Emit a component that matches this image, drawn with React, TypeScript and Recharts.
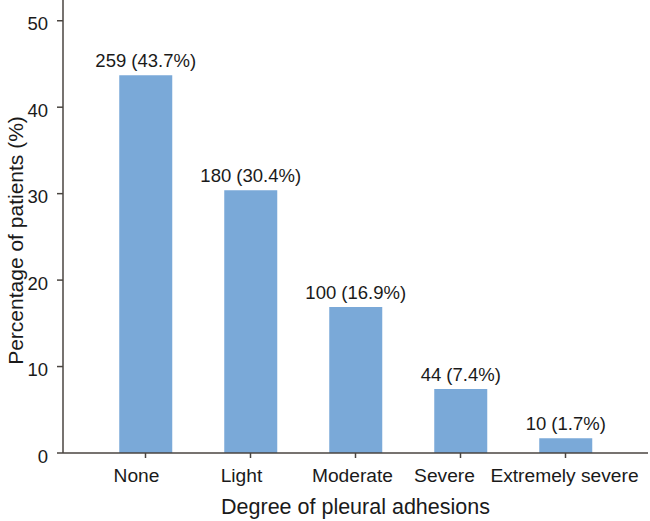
import { BarChart, Bar, XAxis, YAxis, LabelList } from "recharts";

const categories = ["None", "Light", "Moderate", "Severe", "Extremely severe"];
const patientCounts = [259, 180, 100, 44, 10];
const percentages = [43.7, 30.4, 16.9, 7.4, 1.7];
const yTicks = [0, 10, 20, 30, 40, 50];
// the original has its category labels nudged a little left of the ticks
const tickNudge = [-9, -9, -3, -16, -1];

const data = categories.map((name, i) => ({
  name,
  count: patientCounts[i],
  pct: percentages[i],
  label: `${patientCounts[i]} (${percentages[i]}%)`,
}));

const FONT = "'Liberation Sans', Arial, Helvetica, sans-serif";
const AXIS_COLOR = "#4a4540";
const TEXT_COLOR = "#1a1a1a";

// bar value label, one line, sitting just above the bar
const BarTopLabel = (props: any) => {
  const { x, y, width, value } = props;
  return (
    <text
      x={x + width / 2}
      y={y - 8}
      textAnchor="middle"
      fill={TEXT_COLOR}
      fontSize={18.5}
      fontFamily={FONT}
    >
      {value}
    </text>
  );
};

const CategoryTick = (props: any) => {
  const { x, y, payload, index } = props;
  return (
    <text
      x={x + (tickNudge[index] || 0)}
      y={y + 20}
      textAnchor="middle"
      fill={TEXT_COLOR}
      fontSize={19.2}
      fontFamily={FONT}
    >
      {payload.value}
    </text>
  );
};

const YTitle = (props: any) => {
  const { viewBox } = props;
  const cx = viewBox.x + 15;
  const cy = viewBox.y + viewBox.height / 2 + 14;
  return (
    <text
      x={cx}
      y={cy}
      transform={`rotate(-90, ${cx}, ${cy})`}
      textAnchor="middle"
      dominantBaseline="central"
      fill={TEXT_COLOR}
      fontSize={21}
      fontFamily={FONT}
    >
      Percentage of patients (%)
    </text>
  );
};

export default function App() {
  return (
    <div style={{ width: 650, height: 521, fontFamily: FONT }}>
      <style>{`body{margin:0}`}</style>
      <BarChart
        width={650}
        height={521}
        data={data}
        margin={{ top: 0, right: 2, left: 0, bottom: 0 }}
        barCategoryGap="25%"
      >
        <XAxis
          dataKey="name"
          height={68}
          padding={{ left: 30, right: 30 }}
          stroke={AXIS_COLOR}
          strokeWidth={1.5}
          tickSize={5}
          tickMargin={4}
          tick={<CategoryTick />}
          tickLine={{ stroke: AXIS_COLOR }}
          interval={0}
          label={{
            value: "Degree of pleural adhesions",
            position: "insideBottom",
            offset: 7,
            fill: TEXT_COLOR,
            fontSize: 21.5,
            fontFamily: FONT,
          }}
        />
        <YAxis
          width={63}
          domain={[0, 52.4]}
          ticks={yTicks}
          stroke={AXIS_COLOR}
          strokeWidth={1.5}
          tickSize={6}
          tickMargin={9}
          tick={{ fill: TEXT_COLOR, fontSize: 18.5, fontFamily: FONT, dy: 3 }}
          tickLine={{ stroke: AXIS_COLOR }}
          label={<YTitle />}
        />
        <Bar dataKey="pct" fill="#7aa9d8" isAnimationActive={false}>
          <LabelList dataKey="label" content={<BarTopLabel />} />
        </Bar>
      </BarChart>
    </div>
  );
}
